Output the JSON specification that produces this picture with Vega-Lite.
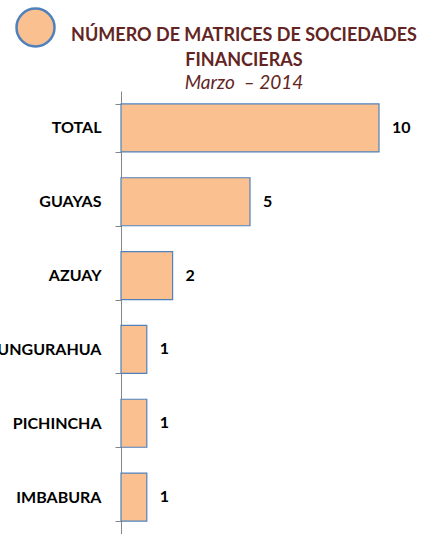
{
  "$schema": "https://vega.github.io/schema/vega-lite/v6.json",
  "autosize": {"type": "none"},
  "padding": {"left": 121, "top": 91, "right": 44, "bottom": 0},
  "width": 258,
  "height": 443,
  "background": "white",
  "title": {
    "text": ["NÚMERO DE MATRICES DE SOCIEDADES", "FINANCIERAS"],
    "subtitle": "Marzo\u00a0 – 2014",
    "anchor": "middle",
    "frame": "group",
    "dx": -6,
    "offset": -86,
    "font": "Lato",
    "fontSize": 18,
    "fontWeight": "bold",
    "color": "#632523",
    "lineHeight": 25,
    "subtitleFont": "Lato",
    "subtitleFontSize": 19,
    "subtitleFontStyle": "italic",
    "subtitleColor": "#632523",
    "subtitlePadding": 4
  },
  "data": {
    "values": [
      {"provincia": "TOTAL", "matrices": 10, "serie": "Matrices"},
      {"provincia": "GUAYAS", "matrices": 5, "serie": "Matrices"},
      {"provincia": "AZUAY", "matrices": 2, "serie": "Matrices"},
      {"provincia": "TUNGURAHUA", "matrices": 1, "serie": "Matrices"},
      {"provincia": "PICHINCHA", "matrices": 1, "serie": "Matrices"},
      {"provincia": "IMBABURA", "matrices": 1, "serie": "Matrices"}
    ]
  },
  "encoding": {
    "y": {
      "field": "provincia",
      "type": "nominal",
      "sort": ["TOTAL", "GUAYAS", "AZUAY", "TUNGURAHUA", "PICHINCHA", "IMBABURA"],
      "scale": {"paddingInner": 0.35, "paddingOuter": 0.175},
      "axis": {
        "title": null,
        "domainColor": "#868686",
        "tickColor": "#868686",
        "tickSize": 6,
        "tickBand": "extent",
        "labelPadding": 14,
        "labelFont": "Lato",
        "labelFontSize": 16,
        "labelFontWeight": "bold",
        "labelColor": "#000000",
        "labelLimit": 0
      }
    },
    "x": {
      "field": "matrices",
      "type": "quantitative",
      "scale": {"domain": [0, 10], "nice": false},
      "axis": null
    }
  },
  "layer": [
    {
      "mark": {"type": "bar", "stroke": "#4F81BD", "strokeWidth": 1.2, "opacity": 1},
      "encoding": {
        "fill": {
          "field": "serie",
          "type": "nominal",
          "scale": {"domain": ["Matrices"], "range": ["#FAC090"]},
          "legend": {
            "orient": "none",
            "legendX": -106,
            "legendY": -84,
            "title": null,
            "symbolType": "circle",
            "symbolSize": 1444,
            "symbolStrokeColor": "#4F81BD",
            "symbolStrokeWidth": 2.5,
            "symbolOpacity": 1,
            "labelExpr": "''",
            "padding": 0
          }
        }
      }
    },
    {
      "mark": {"type": "text", "align": "left", "dx": 13, "font": "Lato", "fontSize": 16, "fontWeight": "bold", "color": "#000000"},
      "encoding": {"text": {"field": "matrices", "type": "quantitative"}}
    }
  ],
  "config": {"view": {"stroke": null}}
}
